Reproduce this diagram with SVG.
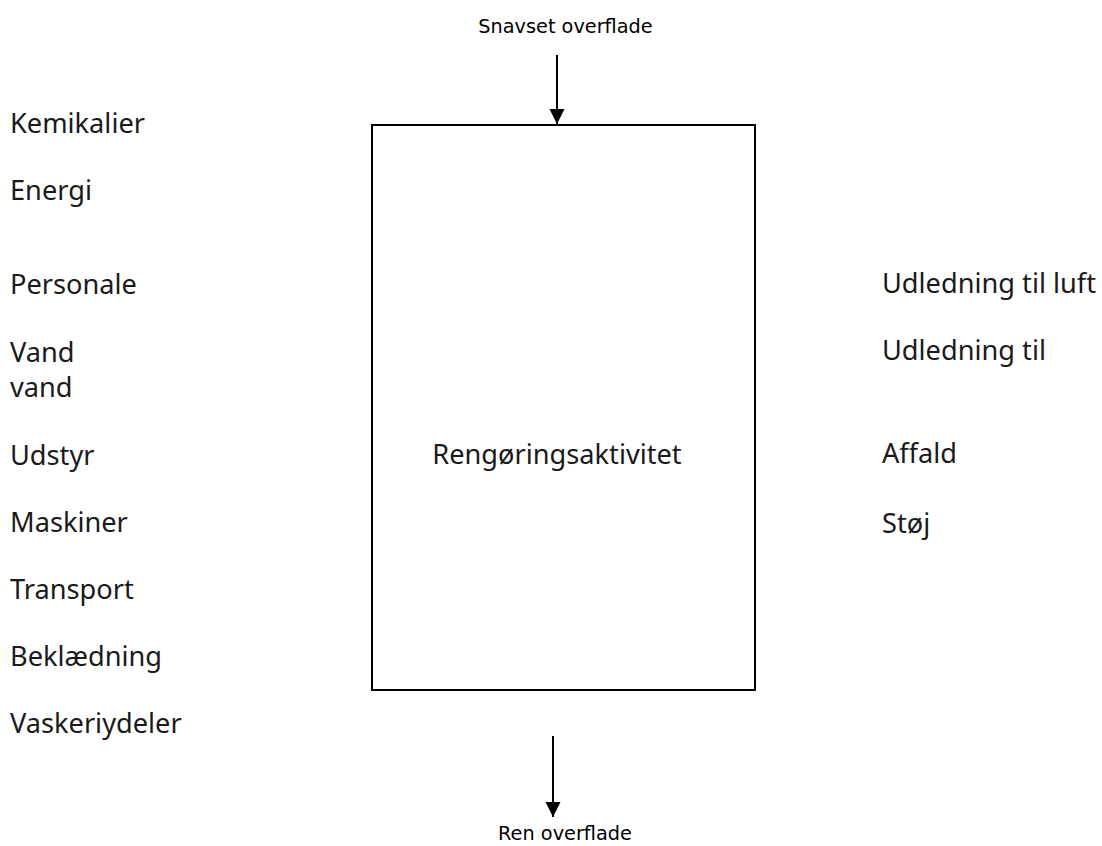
<svg xmlns="http://www.w3.org/2000/svg" width="1102" height="846" viewBox="0 0 1102 846">
<style>
.lbl{font-family:"Noto Sans","Liberation Sans",sans-serif;font-size:27.2px;fill:#1a1a1a;}
.sm{font-family:"DejaVu Sans",sans-serif;font-size:19.3px;fill:#000;text-anchor:middle;}
.box{fill:#fff;stroke:#000;stroke-width:2;}
.conn{stroke:#000;stroke-width:2;fill:none;}
</style>
<defs>
<marker id="ah" markerWidth="16" markerHeight="16" refX="15" refY="8" orient="auto" markerUnits="userSpaceOnUse">
<path d="M0,0.5 L15,8 L0,15.5 Z" fill="#000"/>
</marker>
</defs>
<rect width="1102" height="846" fill="#fff"/>
<g id="process">
<rect class="box" x="372" y="125" width="383" height="565"/>
<text class="lbl" x="557" y="464" text-anchor="middle">Rengøringsaktivitet</text>
</g>
<g id="connectors">
<line class="conn" x1="557" y1="55" x2="557" y2="124" marker-end="url(#ah)"/>
<line class="conn" x1="553" y1="736" x2="553" y2="817" marker-end="url(#ah)"/>
</g>
<g id="top-label"><text class="sm" x="565.5" y="33">Snavset overflade</text></g>
<g id="bottom-label"><text class="sm" x="565" y="840">Ren overflade</text></g>
<g id="inputs">
<text class="lbl" x="10" y="133">Kemikalier</text>
<text class="lbl" x="10" y="200">Energi</text>
<text class="lbl" x="10" y="294">Personale</text>
<text class="lbl" x="10" y="362">Vand</text>
<text class="lbl" x="10" y="397">vand</text>
<text class="lbl" x="10" y="465">Udstyr</text>
<text class="lbl" x="10" y="532">Maskiner</text>
<text class="lbl" x="10" y="599">Transport</text>
<text class="lbl" x="10" y="666">Beklædning</text>
<text class="lbl" x="10" y="733">Vaskeriydeler</text>
</g>
<g id="outputs">
<text class="lbl" x="882" y="293">Udledning til luft</text>
<text class="lbl" x="882" y="360">Udledning til</text>
<text class="lbl" x="882" y="463">Affald</text>
<text class="lbl" x="882" y="533">Støj</text>
</g>
</svg>
